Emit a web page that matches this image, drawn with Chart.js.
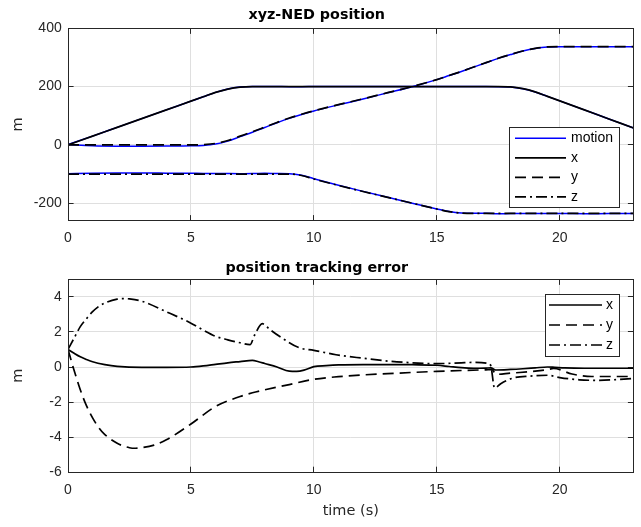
<!DOCTYPE html>
<html>
<head>
<meta charset="utf-8">
<title>xyz-NED position</title>
<script src="https://cdn.jsdelivr.net/npm/chart.js@4.4.1/dist/chart.umd.min.js"></script>
<style>
  html, body { margin: 0; padding: 0; background: #fff; }
  #wrap { position: relative; width: 641px; height: 527px; overflow: hidden; }
  #wrap canvas { position: absolute; left: 0; }
</style>
</head>
<body>
<div id="wrap">
  <canvas id="pos" width="641" height="250" style="top:0"></canvas>
  <canvas id="err" width="641" height="277" style="top:250px"></canvas>
</div>
<script>
// ---- position plot (m) ----
const posT = [0, 1, 2, 3, 4, 5, 5.5, 6, 6.5, 7, 7.5, 8, 8.5, 9, 9.5, 10, 11, 12, 13, 14, 15, 15.5, 16, 16.5, 17, 17.5, 18, 18.5, 19, 19.5, 20, 21, 22, 23];
const posX = [0, 30, 60, 90, 120, 150, 165, 180, 191.5, 198.2, 200, 200, 200, 200, 200, 200, 200, 200, 200, 200, 200, 200, 200, 200, 200, 200, 198.9, 192.9, 181.7, 166.5, 151, 120, 89, 58];
const posY = [0, 0, 0, 0, 0, 0, 1, 5, 15, 30, 45, 61, 77, 92, 105, 117, 138, 158, 179, 200, 224, 238, 252, 267, 282, 297, 310, 322, 331, 336, 337, 337, 337, 337];
const posZ = [-100, -100, -100, -100, -100, -100, -100, -100, -100, -100, -100, -100, -100, -100, -105, -117, -139, -160, -180, -200, -220, -229, -234, -235, -235, -235, -235, -235, -235, -235, -235, -235, -235, -235];
// measured motion (blue), sampled on posT
const motionX = [1, 30, 60, 90, 120, 150, 165, 180.1, 191.7, 198.5, 200.4, 200.2, 200, 199.8, 199.8, 200, 200.1, 200.1, 200.1, 200.1, 200.1, 200, 200, 199.9, 199.9, 199.8, 198.8, 192.8, 181.6, 166.5, 151, 120, 89, 58];
const motionY = [1, -2.9, -4.35, -4.6, -4.15, -3.25, -1.75, 2.7, 13, 28.3, 43.5, 59.7, 75.9, 91, 104.2, 116.3, 137.4, 157.5, 178.6, 199.7, 223.8, 237.8, 251.8, 266.8, 281.8, 296.6, 309.7, 321.8, 330.8, 335.9, 336.8, 336.5, 336.5, 336.5];
const motionZ = [-99, -96.85, -96.13, -96.25, -96.85, -97.5, -97.9, -98.2, -98.45, -98.6, -98.5, -97.65, -98.2, -98.6, -103.9, -116.05, -138.3, -159.5, -179.7, -199.8, -219.8, -228.8, -233.8, -234.7, -234.8, -236.1, -235.7, -235.6, -235.5, -235.5, -235.6, -235.8, -235.7, -235.6];
const posTicks = [-200, 0, 200, 400];

// ---- tracking error plot (m) ----
const errXT = [0, 0.25, 0.5, 0.75, 1, 1.5, 2, 3, 4, 5, 5.5, 6, 6.5, 7, 7.5, 7.75, 8, 8.5, 9, 9.3, 9.6, 10, 10.5, 11, 12, 13, 14, 15, 15.5, 16, 16.5, 17, 17.2, 17.4, 18, 18.5, 19, 19.5, 19.8, 20.2, 21, 22, 23];
const errX = [1.0, 0.78, 0.58, 0.43, 0.3, 0.14, 0.04, -0.02, -0.02, 0.0, 0.06, 0.15, 0.24, 0.31, 0.38, 0.3, 0.2, 0.0, -0.24, -0.25, -0.18, 0.02, 0.08, 0.12, 0.14, 0.14, 0.13, 0.1, 0.03, -0.04, -0.07, -0.06, -0.05, -0.17, -0.14, -0.1, -0.05, 0.0, -0.02, -0.05, -0.07, -0.07, -0.07];
const errYT = [0, 0.25, 0.5, 0.75, 1, 1.25, 1.5, 2, 2.5, 2.75, 3, 3.5, 4, 5, 6, 7, 7.5, 8, 9, 10, 11, 12, 13, 14, 15, 16, 17, 17.25, 17.4, 18, 19, 19.5, 19.75, 20.5, 21.3, 22, 23];
const errY = [1.0, -0.2, -1.3, -2.2, -2.9, -3.45, -3.85, -4.35, -4.6, -4.63, -4.6, -4.45, -4.15, -3.25, -2.25, -1.68, -1.47, -1.3, -1.0, -0.7, -0.55, -0.45, -0.38, -0.31, -0.25, -0.2, -0.16, -0.15, -0.42, -0.35, -0.24, -0.15, -0.08, -0.4, -0.54, -0.54, -0.54];
const errZT = [0, 0.25, 0.5, 0.75, 1, 1.25, 1.5, 2, 2.25, 2.5, 3, 4, 5, 5.5, 6, 6.5, 7, 7.4, 7.6, 7.9, 8.2, 8.6, 9.4, 10, 10.9, 12, 13, 14, 15, 16, 16.5, 17.1, 17.2, 17.35, 17.6, 18.1, 18.8, 19.5, 20, 20.8, 21.5, 22.3, 23];
const errZ = [1.0, 1.65, 2.3, 2.75, 3.15, 3.45, 3.65, 3.87, 3.9, 3.88, 3.75, 3.15, 2.5, 2.1, 1.75, 1.55, 1.38, 1.27, 1.85, 2.47, 2.15, 1.75, 1.1, 0.95, 0.7, 0.5, 0.34, 0.24, 0.19, 0.24, 0.26, 0.2, 0.05, -1.2, -0.95, -0.63, -0.52, -0.47, -0.6, -0.73, -0.76, -0.72, -0.65];
const errTicks = [-6, -4, -2, 0, 2, 4];

const timeTicks = [0, 5, 10, 15, 20];

const AXIS = '#262626';
const GRID = '#dfdfdf';
const DASH = [11, 6];
const DASHDOT = [11, 4, 2, 4];
const tickFont = { family: 'Liberation Sans', size: 14 };
const labelFont = { family: 'DejaVu Sans', size: 14.5 };
const titleFont = { family: 'DejaVu Sans', size: 14.3, weight: 'bold' };

function points (t, v) {
  return t.map((x, i) => ({ x, y: v[i] }));
}

function line (label, t, v, color, dash, width, order, extra) {
  return Object.assign({
    label,
    data: points(t, v),
    borderColor: color,
    borderDash: dash,
    borderWidth: width,
    order
  }, extra || {});
}

// MATLAB-like axes: inward ticks on four sides, box frame and a boxed legend
const axesBox = {
  id: 'axesBox',
  beforeDatasetsDraw (chart, args, opts) {
    const { ctx, chartArea: a, scales } = chart;
    const al = p => Math.round(p - 0.5) + 0.5;
    ctx.save();
    ctx.strokeStyle = AXIS;
    ctx.lineWidth = 1;
    ctx.beginPath();
    scales.x.ticks.forEach(t => {
      const px = al(scales.x.getPixelForValue(t.value));
      ctx.moveTo(px, a.bottom); ctx.lineTo(px, a.bottom - opts.tickLen);
      ctx.moveTo(px, a.top); ctx.lineTo(px, a.top + opts.tickLen);
    });
    scales.y.ticks.forEach(t => {
      const py = al(scales.y.getPixelForValue(t.value));
      ctx.moveTo(a.left, py); ctx.lineTo(a.left + opts.tickLen, py);
      ctx.moveTo(a.right, py); ctx.lineTo(a.right - opts.tickLen, py);
    });
    ctx.stroke();
    ctx.restore();
  },
  afterDatasetsDraw (chart, args, opts) {
    const { ctx, chartArea: a } = chart;
    const al = p => Math.round(p - 0.5) + 0.5;
    ctx.save();
    ctx.strokeStyle = AXIS;
    ctx.lineWidth = 1;
    const l = al(a.left), r = al(a.right), t = al(a.top), b = al(a.bottom);
    ctx.strokeRect(l, t, r - l, b - t);

    // legend
    const lg = opts.legend;
    ctx.fillStyle = '#fff';
    ctx.fillRect(lg.x, lg.y, lg.w, lg.h);
    ctx.strokeRect(al(lg.x), al(lg.y), lg.w, lg.h);
    const items = chart.data.datasets.filter(d => !d.hideInLegend);
    ctx.font = '14px "Liberation Sans"';
    ctx.textBaseline = 'middle';
    ctx.textAlign = 'left';
    items.forEach((d, i) => {
      const y = lg.rowY + i * lg.rowStep;
      ctx.strokeStyle = d.borderColor;
      ctx.lineWidth = d.borderWidth;
      ctx.setLineDash(d.borderDash || []);
      ctx.beginPath();
      ctx.moveTo(lg.lineX0, y);
      ctx.lineTo(lg.lineX1, y);
      ctx.stroke();
      ctx.setLineDash([]);
      ctx.fillStyle = '#000';
      ctx.fillText(d.label, lg.textX, y);
    });
    ctx.restore();
  }
};

function makeChart (el, cfg) {
  return new Chart(el, {
    type: 'line',
    data: { datasets: cfg.datasets },
    plugins: [axesBox],
    options: {
      responsive: false,
      animation: false,
      devicePixelRatio: 1,
      layout: { padding: { left: 0, right: 7.5, top: 0, bottom: 0 } },
      elements: {
        point: { radius: 0 },
        line: { cubicInterpolationMode: 'monotone', borderCapStyle: 'butt' }
      },
      plugins: {
        legend: { display: false },
        tooltip: { enabled: false },
        title: {
          display: true,
          text: cfg.title,
          color: '#000',
          font: titleFont,
          padding: cfg.titlePad
        },
        axesBox: { tickLen: 5.6, legend: cfg.legend }
      },
      scales: {
        x: {
          type: 'linear',
          min: 0,
          max: 23,
          afterBuildTicks: s => { s.ticks = timeTicks.map(v => ({ value: v })); },
          afterFit: s => { s.height = cfg.xHeight; },
          grid: { color: GRID, drawTicks: false },
          border: { display: false },
          ticks: { color: AXIS, font: tickFont, padding: 9.4, autoSkip: false, maxRotation: 0 },
          title: cfg.xTitle
            ? { display: true, text: cfg.xTitle, color: AXIS, font: labelFont, padding: { top: 0, bottom: 6.6 } }
            : { display: false }
        },
        y: {
          min: cfg.yMin,
          max: cfg.yMax,
          afterBuildTicks: s => { s.ticks = cfg.yTicks.map(v => ({ value: v })); },
          afterFit: s => { s.width = 68; },
          grid: { color: GRID, drawTicks: false },
          border: { display: false },
          ticks: { color: AXIS, font: tickFont, padding: 6.3, autoSkip: false },
          title: { display: true, text: 'm', color: AXIS, font: labelFont, padding: { top: 9.3, bottom: 0 } }
        }
      }
    }
  });
}

// blue motion goes underneath the black reference lines
makeChart(document.getElementById('pos'), {
  title: 'xyz-NED position',
  titlePad: { top: 7.1, bottom: 4.0 },
  xHeight: 29.3,
  yMin: -260,
  yMax: 400,
  yTicks: posTicks,
  legend: { x: 509, y: 127, w: 110, h: 80, lineX0: 515, lineX1: 566, textX: 571, rowY: 138.3, rowStep: 19.5 },
  datasets: [
    line('motion', posT, motionX, '#0000ff', [], 1.5, 1),
    line('x', posT, posX, '#000', [], 1.7, 0),
    line('y', posT, posY, '#000', DASH, 1.7, 0),
    line('z', posT, posZ, '#000', DASHDOT, 1.7, 0),
    line('motion', posT, motionY, '#0000ff', [], 1.5, 1, { hideInLegend: true }),
    line('motion', posT, motionZ, '#0000ff', [], 1.5, 1, { hideInLegend: true })
  ]
});

makeChart(document.getElementById('err'), {
  title: 'position tracking error',
  titlePad: { top: 9.4, bottom: 2.7 },
  xHeight: 54.7,
  xTitle: 'time (s)',
  yMin: -6,
  yMax: 5,
  yTicks: errTicks,
  legend: { x: 545, y: 44, w: 74, h: 62, lineX0: 549, lineX1: 602, textX: 606, rowY: 55, rowStep: 20 },
  datasets: [
    line('x', errXT, errX, '#000', [], 1.7, 0),
    line('y', errYT, errY, '#000', DASH, 1.7, 0),
    line('z', errZT, errZ, '#000', DASHDOT, 1.7, 0)
  ]
});
</script>
</body>
</html>
